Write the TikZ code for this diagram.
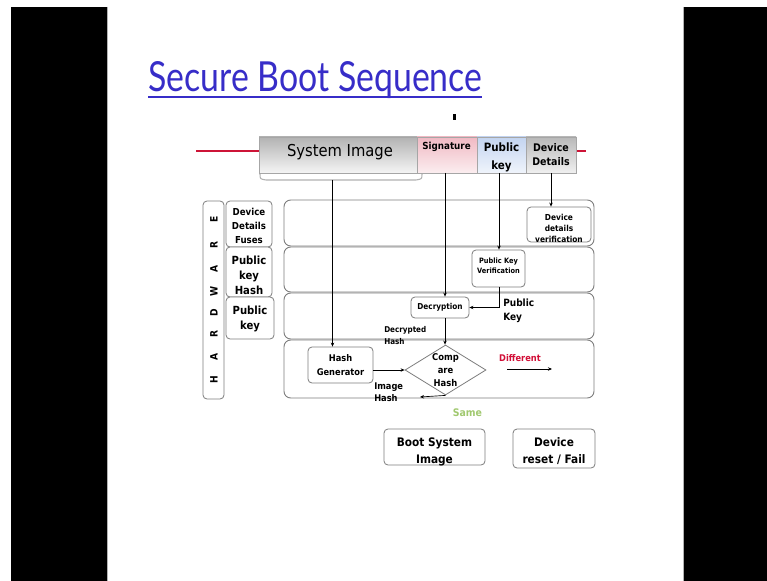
\documentclass[tikz,border=0pt]{standalone}
\usepackage{fontspec}
\setmainfont{DejaVu Sans}
\newfontfamily\condf{DejaVu Sans Condensed}
\newfontfamily\titlef{Lato}
\usetikzlibrary{fit,shapes.geometric,arrows.meta}
\definecolor{titleblue}{RGB}{55,45,200}
\definecolor{barred}{RGB}{205,20,55}
\definecolor{diffred}{RGB}{210,15,55}
\definecolor{samegreen}{RGB}{160,200,110}
\definecolor{edgegray}{RGB}{125,125,125}
\definecolor{sigpink}{RGB}{240,185,195}
\definecolor{keyblue}{RGB}{195,212,240}
\newcommand\setfs[2]{\fontsize{#1}{#2}\selectfont}

\begin{document}
\begin{tikzpicture}[x=0.75pt,y=-0.75pt,
  box/.style={draw=edgegray, line width=0.6pt, rounded corners=3pt, fill=white, inner sep=0pt},
  lane/.style={draw=edgegray, line width=0.7pt, rounded corners=5pt, inner sep=0pt},
  seg/.style={draw=gray!70, line width=0.5pt, inner sep=0pt},
  conn/.style={line width=0.5pt, -{Stealth[length=3pt,width=2.6pt]}},
  txt/.style={inner sep=0pt, align=center},
  ltxt/.style={inner sep=0pt, align=left, anchor=west},
]
\useasboundingbox (0,0) rectangle (767,581);
% slide frame
\fill[white] (0,0) rectangle (767,581);
\fill[black] (11,7) rectangle (107,581);
\fill[black] (684,7) rectangle (767,581);
\draw[gray!60, line width=0.75pt] (107.5,7) -- (107.5,581) (683.5,7) -- (683.5,581);

% title
\node[anchor=base west, inner sep=0pt, text=titleblue] (title) at (148,92)
  {\resizebox{250.5pt}{22.5pt}{\titlef Secure Boot Sequence}};
\draw[titleblue, line width=1.5pt] (148,97.5) -- (482,97.5);
\fill (453,114) rectangle (456,120);

% image layout bar
\draw[barred, line width=2.2pt] (196,151) -- (259,151) (576,151) -- (586,151);
\node[seg, top color=gray!60, bottom color=gray!8, fit={(259,137)(417,173)}] (sysimg) {};
\node[txt, font={\condf\setfs{12.3}{14}}] (sysimgtxt) at (340,152) {System Image};
\node[seg, top color=sigpink, bottom color=sigpink!25, fit={(417,137)(477,173)}] (sig) {};
\node[txt, font={\condf\bfseries\setfs{7.3}{9}}] (sigtxt) at (446.5,147) {Signature};
\node[seg, top color=keyblue, bottom color=keyblue!25, fit={(477,137)(526,173)}] (pk) {};
\node[txt, font={\condf\bfseries\setfs{8.6}{14}}] (pktxt) at (501.5,157.5) {Public\\key};
\node[seg, top color=gray!55, bottom color=gray!12, fit={(526,137)(576,173)}] (dd) {};
\node[txt, font={\condf\bfseries\setfs{7.9}{10.5}}] (ddtxt) at (551,155) {Device\\Details};

% brace under the system image
\draw[gray!60, line width=0.8pt] (260,174) .. controls (260,179) .. (266,180) -- (416,180) .. controls (422,179) .. (422,174);
\coordinate (bracetip) at (332.5,180);
\coordinate (sigdrop) at (445,173);
\coordinate (keydrop) at (499,173);

% hardware column
\node[box, fit={(203,201)(224,399)}] (hw) {};
\foreach \l/\yy in {H/380, A/357, R/334, D/313, W/291, A/269, R/245, E/219}
  \node[inner sep=0pt, rotate=90, font={\condf\bfseries\setfs{7.6}{8}}] at (214,\yy) {\l};
\node[box, fit={(226,201)(272,247)}] (fuses) {};
\node[txt, font={\condf\bfseries\setfs{7.2}{10.5}}] (fusestxt) at (249,226) {Device\\Details\\Fuses};
\node[box, fit={(226,247)(272,297)}] (pkhash) {};
\node[txt, font={\condf\bfseries\setfs{8.4}{11.25}}] (pkhashtxt) at (249,275) {Public\\key\\Hash};
\node[box, fit={(226,297)(274,339)}] (pkfuse) {};
\node[txt, font={\condf\bfseries\setfs{8.4}{11.25}}] (pkfusetxt) at (250,318.5) {Public\\key};

% lanes
\node[lane, fit={(284,200)(594,246)}] (lane1) {};
\node[lane, fit={(284,247)(594,292)}] (lane2) {};
\node[lane, fit={(284,293)(594,339)}] (lane3) {};
\node[lane, fit={(284,340)(594,398)}] (lane4) {};

% processing blocks
\node[box, fit={(527,207)(591,242)}] (ddv) {};
\node[txt, font={\condf\bfseries\setfs{6.2}{8.25}}] (ddvtxt) at (559,228) {Device\\details\\verification};
\node[box, fit={(472,250)(525,287)}] (pkv) {};
\node[txt, font={\condf\bfseries\setfs{5.5}{7.5}}] (pkvtxt) at (498.5,266) {Public Key\\Verification};
\node[box, fit={(411,297)(469,318)}] (dec) {};
\node[txt, font={\condf\bfseries\setfs{6.1}{8}}] (dectxt) at (440,307.5) {Decryption};
\node[box, fit={(308,347)(373,383)}] (hashgen) {};
\node[txt, font={\condf\bfseries\setfs{6.9}{10.5}}] (hashgentxt) at (340.5,365) {Hash\\Generator};
\node[diamond, draw=edgegray, line width=0.6pt, fill=white, inner sep=0pt,
      minimum width=60.75pt, minimum height=37.5pt] (cmp) at (445.5,370) {};
\node[txt, font={\condf\bfseries\setfs{7}{9.75}}] (cmptxt) at (cmp.center) {Comp\\are\\Hash};

% outcomes
\node[box, fit={(384,429)(485,465)}] (boot) {};
\node[txt, font={\condf\bfseries\setfs{8.8}{12.75}}] (boottxt) at (434.5,451.5) {Boot System\\Image};
\node[box, fit={(513,429)(595,468)}] (reset) {};
\node[txt, font={\condf\bfseries\setfs{8.8}{12.75}}] (resettxt) at (554,451.5) {Device\\reset / Fail};

% labels
\node[ltxt, font={\condf\bfseries\setfs{7.5}{10.5}}] (pklbl) at (503,311) {Public\\Key};
\node[ltxt, font={\condf\bfseries\setfs{6}{9}}] (dhlbl) at (384,336) {Decrypted\\Hash};
\node[ltxt, font={\condf\bfseries\setfs{6.9}{9}}] (ihlbl) at (374,392) {Image\\Hash};
\node[txt, text=diffred, font={\condf\bfseries\setfs{6.9}{8}}] (difflbl) at (520,358) {Different};
\node[txt, text=samegreen, font={\condf\bfseries\setfs{7.8}{9}}] (samelbl) at (467.5,413) {Same};

% connectors
\draw[conn] (bracetip) -- (bracetip |- hashgen.north);
\draw[conn] (sigdrop) -- (sigdrop |- dec.north);
\draw[conn] (keydrop) -- (keydrop |- pkv.north);
\draw[conn] (dd.south) -- (dd.south |- ddv.north);
\draw[conn] (keydrop |- pkv.south) |- (dec.east);
\draw[conn] (sigdrop |- dec.south) -- (sigdrop |- cmp.north);
\draw[conn] (hashgen.east |- cmp.west) -- (cmp.west);
\coordinate (diffA) at (507,369);
\coordinate (diffB) at (552,369);
\draw[conn] (diffA) -- (diffB);
\coordinate (imghash) at (420,397);
\draw[conn] (cmp.south) -- (imghash);
\end{tikzpicture}
\end{document}
